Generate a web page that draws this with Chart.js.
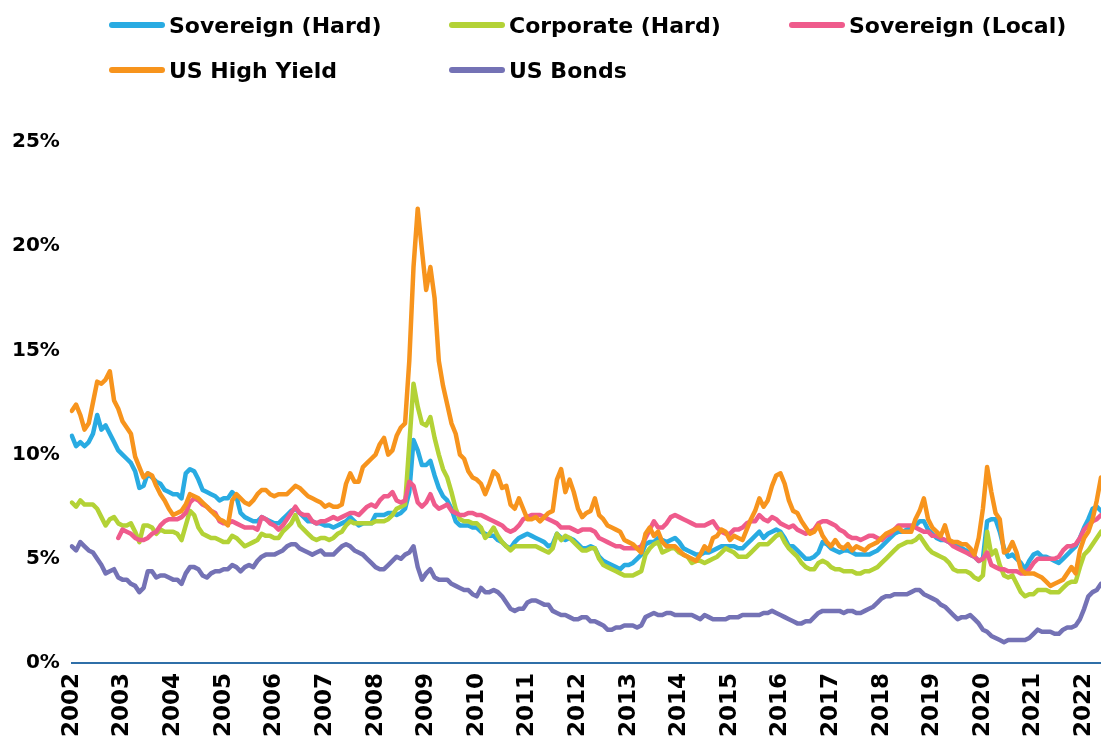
<!DOCTYPE html>
<html>
<head>
<meta charset="utf-8">
<script src="https://cdn.jsdelivr.net/npm/chart.js@4.4.1/dist/chart.umd.min.js"></script>
<style>
  body { margin: 0; background: #fff; }
  #wrap { position: relative; width: 1101px; height: 750px; }
  #legend {
    position: absolute; left: 109px; top: 11px;
    display: grid; grid-template-columns: 340px 340px 340px; row-gap: 17px;
    font-family: "DejaVu Sans", sans-serif; font-weight: bold; font-size: 22px; color: #000;
  }
  .item { display: flex; align-items: center; height: 28px; white-space: nowrap; }
  .swatch { width: 56px; height: 6px; border-radius: 3px; margin-right: 4px; }
</style>
</head>
<body>
<div id="wrap">
  <canvas id="yieldCanvas" width="1101" height="750"></canvas>
  <div id="legend"></div>
</div>
<script>
// monthly, Jan 2002 - May 2022
var years = [2002, 2003, 2004, 2005, 2006, 2007, 2008, 2009, 2010, 2011, 2012,
  2013, 2014, 2015, 2016, 2017, 2018, 2019, 2020, 2021, 2022];
var lastYearMonths = 5;

var seriesNames = ["Sovereign (Hard)", "Corporate (Hard)", "Sovereign (Local)", "US High Yield", "US Bonds"];
var seriesColors = ["#29abe2", "#b3d236", "#ef5b8c", "#f7941d", "#7472b5"];

var sovereignHard = [
  10.9, 10.4, 10.6, 10.4, 10.6, 11.0, 11.9, 11.2, 11.4, 11.0, 10.6, 10.2,
  10.0, 9.8, 9.6, 9.2, 8.4, 8.5, 9.1, 8.9, 8.7, 8.6, 8.3, 8.2,
  8.1, 8.1, 7.9, 9.1, 9.3, 9.2, 8.8, 8.3, 8.2, 8.1, 8.0, 7.8,
  7.9, 7.9, 8.2, 8.0, 7.2, 7.0, 6.9, 6.8, 6.8, 7.0, 6.9, 6.8,
  6.7, 6.7, 6.9, 7.1, 7.3, 7.4, 7.2, 7.0, 6.8, 6.8, 6.7, 6.7,
  6.6, 6.6, 6.5, 6.6, 6.7, 6.8, 7.0, 6.8, 6.6, 6.7, 6.7, 6.7,
  7.1, 7.1, 7.1, 7.2, 7.2, 7.1, 7.2, 7.4, 8.2, 10.7, 10.2, 9.5,
  9.5, 9.7, 9.0, 8.4, 8.0, 7.8, 7.4, 6.8, 6.6, 6.6, 6.6, 6.5,
  6.5, 6.3, 6.2, 6.1, 6.1, 5.9, 5.8, 5.6, 5.5, 5.8, 6.0, 6.1,
  6.2, 6.1, 6.0, 5.9, 5.8, 5.6, 5.7, 6.2, 6.0, 5.9, 6.0, 5.9,
  5.7, 5.5, 5.5, 5.6, 5.5, 5.1, 4.9, 4.8, 4.7, 4.6, 4.5, 4.7,
  4.7, 4.8, 5.0, 5.2, 5.7, 5.8, 5.8, 6.0, 5.9, 5.8, 5.9, 6.0,
  5.8, 5.5, 5.4, 5.3, 5.2, 5.2, 5.3, 5.3, 5.4, 5.5, 5.6, 5.6,
  5.6, 5.6, 5.5, 5.5, 5.7, 5.9, 6.1, 6.3, 6.0, 6.2, 6.3, 6.4,
  6.3, 6.0, 5.6, 5.6, 5.4, 5.2, 5.0, 5.0, 5.1, 5.3, 5.8, 5.7,
  5.5, 5.4, 5.3, 5.4, 5.4, 5.3, 5.2, 5.2, 5.2, 5.2, 5.3, 5.4,
  5.6, 5.8, 6.0, 6.2, 6.3, 6.3, 6.4, 6.5, 6.6, 6.8, 6.8, 6.4,
  6.2, 6.0, 5.9, 5.9, 5.8, 5.7, 5.6, 5.5, 5.4, 5.2, 5.1, 4.9,
  5.0, 6.8, 6.9, 6.9, 6.3, 5.5, 5.1, 5.2, 5.0, 4.8, 4.5, 4.9,
  5.2, 5.3, 5.1, 5.1, 5.0, 4.9, 4.8, 5.0, 5.2, 5.4, 5.6, 6.0,
  6.5, 6.9, 7.4, 7.5, 7.3
];

var corporateHard = [
  7.7, 7.5, 7.8, 7.6, 7.6, 7.6, 7.4, 7.0, 6.6, 6.9, 7.0, 6.7,
  6.6, 6.6, 6.7, 6.3, 5.8, 6.6, 6.6, 6.5, 6.2, 6.4, 6.3, 6.3,
  6.3, 6.2, 5.9, 6.6, 7.3, 7.1, 6.5, 6.2, 6.1, 6.0, 6.0, 5.9,
  5.8, 5.8, 6.1, 6.0, 5.8, 5.6, 5.7, 5.8, 5.9, 6.2, 6.1, 6.1,
  6.0, 6.0, 6.3, 6.5, 6.7, 7.1, 6.6, 6.4, 6.2, 6.0, 5.9, 6.0,
  6.0, 5.9, 6.0, 6.2, 6.3, 6.6, 6.8, 6.7, 6.7, 6.7, 6.7, 6.7,
  6.8, 6.8, 6.8, 6.9, 7.1, 7.4, 7.5, 7.6, 10.5, 13.4, 12.3, 11.5,
  11.4, 11.8, 10.8, 10.0, 9.3, 8.9, 8.2, 7.4, 6.9, 6.8, 6.8, 6.7,
  6.7, 6.5, 6.0, 6.2, 6.5, 6.1, 5.8, 5.6, 5.4, 5.6, 5.6, 5.6,
  5.6, 5.6, 5.6, 5.5, 5.4, 5.3, 5.5, 6.2, 5.9, 6.1, 6.0, 5.8,
  5.6, 5.4, 5.4, 5.5, 5.5, 5.0, 4.7, 4.6, 4.5, 4.4, 4.3, 4.2,
  4.2, 4.2, 4.3, 4.4, 5.2, 5.5, 5.7, 5.8, 5.3, 5.4, 5.5, 5.5,
  5.3, 5.2, 5.1, 4.8, 4.9, 4.9, 4.8, 4.9, 5.0, 5.1, 5.3, 5.5,
  5.4, 5.3, 5.1, 5.1, 5.1, 5.3, 5.5, 5.7, 5.7, 5.7, 5.9, 6.1,
  6.2, 5.8, 5.5, 5.3, 5.1, 4.8, 4.6, 4.5, 4.5, 4.8, 4.9, 4.8,
  4.6, 4.5, 4.5, 4.4, 4.4, 4.4, 4.3, 4.3, 4.4, 4.4, 4.5, 4.6,
  4.8, 5.0, 5.2, 5.4, 5.6, 5.7, 5.8, 5.8, 5.9, 6.1, 5.8, 5.5,
  5.3, 5.2, 5.1, 5.0, 4.8, 4.5, 4.4, 4.4, 4.4, 4.3, 4.1, 4.0,
  4.2, 6.3, 5.2, 5.4, 4.7, 4.2, 4.1, 4.2, 3.8, 3.4, 3.2, 3.3,
  3.3, 3.5, 3.5, 3.5, 3.4, 3.4, 3.4, 3.6, 3.8, 3.9, 3.9, 4.6,
  5.2, 5.4, 5.7, 6.0, 6.3
];

var sovereignLocal = [
  null, null, null, null, null, null, null, null, null, null, null, 6.0,
  6.4, 6.3, 6.2, 6.0, 5.9, 5.9, 6.0, 6.2, 6.3, 6.6, 6.8, 6.9,
  6.9, 6.9, 7.0, 7.2, 7.7, 7.9, 7.8, 7.6, 7.5, 7.3, 7.2, 6.8,
  6.7, 6.7, 6.8, 6.7, 6.6, 6.5, 6.5, 6.5, 6.4, 7.0, 6.9, 6.7,
  6.6, 6.4, 6.6, 6.9, 7.2, 7.5, 7.2, 7.1, 7.1, 6.8, 6.7, 6.8,
  6.8, 6.9, 7.0, 6.9, 7.0, 7.1, 7.2, 7.2, 7.1, 7.3, 7.5, 7.6,
  7.5, 7.8, 8.0, 8.0, 8.2, 7.8, 7.7, 7.8, 8.7, 8.5, 7.7, 7.5,
  7.7, 8.1, 7.6, 7.4, 7.5, 7.6, 7.3, 7.2, 7.1, 7.1, 7.2, 7.2,
  7.1, 7.1, 7.0, 6.9, 6.8, 6.7, 6.6, 6.4, 6.3, 6.4, 6.6, 6.9,
  7.0, 7.1, 7.1, 7.1, 7.0, 6.9, 6.8, 6.7, 6.5, 6.5, 6.5, 6.4,
  6.3, 6.4, 6.4, 6.4, 6.3, 6.0, 5.9, 5.8, 5.7, 5.6, 5.6, 5.5,
  5.5, 5.5, 5.5, 5.6, 6.0, 6.4, 6.8, 6.5, 6.5, 6.7, 7.0, 7.1,
  7.0, 6.9, 6.8, 6.7, 6.6, 6.6, 6.6, 6.7, 6.8, 6.5, 6.3, 6.2,
  6.2, 6.4, 6.4, 6.5, 6.7, 6.8, 6.8, 7.1, 6.9, 6.8, 7.0, 6.9,
  6.7, 6.6, 6.5, 6.6, 6.4, 6.3, 6.2, 6.3, 6.4, 6.7, 6.8, 6.8,
  6.7, 6.6, 6.4, 6.3, 6.1, 6.0, 6.0, 5.9, 6.0, 6.1, 6.1, 6.0,
  5.9, 6.1, 6.2, 6.4, 6.6, 6.6, 6.6, 6.6, 6.5, 6.4, 6.3, 6.3,
  6.1, 6.1, 6.0, 5.9, 5.8, 5.6, 5.5, 5.4, 5.3, 5.2, 5.1, 4.9,
  5.0, 5.3, 4.7, 4.6, 4.5, 4.5, 4.4, 4.4, 4.4, 4.3, 4.3, 4.5,
  4.8, 5.0, 5.0, 5.0, 5.0, 5.0, 5.1, 5.4, 5.6, 5.6, 5.7, 6.0,
  6.4, 6.6, 6.8, 6.9, 7.1
];

var usHighYield = [
  12.1, 12.4, 11.9, 11.2, 11.5, 12.5, 13.5, 13.4, 13.6, 14.0, 12.6, 12.2,
  11.6, 11.3, 11.0, 9.9, 9.4, 8.9, 9.1, 9.0, 8.5, 8.1, 7.8, 7.4,
  7.1, 7.2, 7.3, 7.6, 8.1, 8.0, 7.9, 7.7, 7.5, 7.3, 7.1, 6.9,
  6.8, 6.6, 7.8, 8.1, 7.9, 7.7, 7.6, 7.8, 8.1, 8.3, 8.3, 8.1,
  8.0, 8.1, 8.1, 8.1, 8.3, 8.5, 8.4, 8.2, 8.0, 7.9, 7.8, 7.7,
  7.5, 7.6, 7.5, 7.5, 7.6, 8.6, 9.1, 8.7, 8.7, 9.4, 9.6, 9.8,
  10.0, 10.5, 10.8, 10.0, 10.2, 10.9, 11.3, 11.5, 14.5, 19.0, 21.8, 19.8,
  17.9, 19.0, 17.5, 14.5, 13.3, 12.4, 11.5, 11.0, 10.0, 9.8, 9.2, 8.9,
  8.8, 8.6, 8.1, 8.6, 9.2, 9.0, 8.4, 8.5, 7.6, 7.4, 7.9, 7.4,
  6.9, 6.9, 7.0, 6.8, 7.0, 7.2, 7.3, 8.8, 9.3, 8.2, 8.8, 8.2,
  7.4, 7.0, 7.2, 7.3, 7.9, 7.1, 6.9, 6.6, 6.5, 6.4, 6.3, 5.9,
  5.8, 5.7, 5.5, 5.3, 6.2, 6.5, 6.1, 6.3, 5.8, 5.6, 5.6, 5.6,
  5.4, 5.2, 5.1, 5.0, 4.9, 5.2, 5.6, 5.4, 6.0, 6.1, 6.4, 6.3,
  5.9, 6.1, 6.0, 5.9, 6.4, 6.9, 7.3, 7.9, 7.5, 7.8, 8.5, 9.0,
  9.1, 8.6, 7.8, 7.3, 7.2, 6.8, 6.5, 6.2, 6.3, 6.6, 6.1, 5.8,
  5.6, 5.9, 5.6, 5.5, 5.7, 5.4, 5.6, 5.5, 5.4, 5.6, 5.7, 5.8,
  6.0, 6.2, 6.3, 6.4, 6.5, 6.3, 6.3, 6.3, 6.9, 7.3, 7.9, 6.9,
  6.5, 6.3, 6.1, 6.6, 5.9, 5.8, 5.8, 5.7, 5.7, 5.5, 5.2, 6.0,
  7.4, 9.4, 8.2, 7.2, 6.9, 5.3, 5.4, 5.8, 5.3, 4.5, 4.3, 4.3,
  4.3, 4.2, 4.1, 3.9, 3.7, 3.8, 3.9, 4.0, 4.3, 4.6, 4.3, 5.4,
  6.0, 6.3, 6.9, 7.8, 8.9
];

var usBonds = [
  5.6, 5.4, 5.8, 5.6, 5.4, 5.3, 5.0, 4.7, 4.3, 4.4, 4.5, 4.1,
  4.0, 4.0, 3.8, 3.7, 3.4, 3.6, 4.4, 4.4, 4.1, 4.2, 4.2, 4.1,
  4.0, 4.0, 3.8, 4.3, 4.6, 4.6, 4.5, 4.2, 4.1, 4.3, 4.4, 4.4,
  4.5, 4.5, 4.7, 4.6, 4.4, 4.6, 4.7, 4.6, 4.9, 5.1, 5.2, 5.2,
  5.2, 5.3, 5.4, 5.6, 5.7, 5.7, 5.5, 5.4, 5.3, 5.2, 5.3, 5.4,
  5.2, 5.2, 5.2, 5.4, 5.6, 5.7, 5.6, 5.4, 5.3, 5.2, 5.0, 4.8,
  4.6, 4.5, 4.5, 4.7, 4.9, 5.1, 5.0, 5.2, 5.3, 5.6, 4.6, 4.0,
  4.3, 4.5, 4.1, 4.0, 4.0, 4.0, 3.8, 3.7, 3.6, 3.5, 3.5, 3.3,
  3.2, 3.6, 3.4, 3.4, 3.5, 3.4, 3.2, 2.9, 2.6, 2.5, 2.6, 2.6,
  2.9, 3.0, 3.0, 2.9, 2.8, 2.8, 2.5, 2.4, 2.3, 2.3, 2.2, 2.1,
  2.1, 2.2, 2.2, 2.0, 2.0, 1.9, 1.8, 1.6, 1.6, 1.7, 1.7, 1.8,
  1.8, 1.8, 1.7, 1.8, 2.2, 2.3, 2.4, 2.3, 2.3, 2.4, 2.4, 2.3,
  2.3, 2.3, 2.3, 2.3, 2.2, 2.1, 2.3, 2.2, 2.1, 2.1, 2.1, 2.1,
  2.2, 2.2, 2.2, 2.3, 2.3, 2.3, 2.3, 2.3, 2.4, 2.4, 2.5, 2.4,
  2.3, 2.2, 2.1, 2.0, 1.9, 1.9, 2.0, 2.0, 2.2, 2.4, 2.5, 2.5,
  2.5, 2.5, 2.5, 2.4, 2.5, 2.5, 2.4, 2.4, 2.5, 2.6, 2.7, 2.9,
  3.1, 3.2, 3.2, 3.3, 3.3, 3.3, 3.3, 3.4, 3.5, 3.5, 3.3, 3.2,
  3.1, 3.0, 2.8, 2.7, 2.5, 2.3, 2.1, 2.2, 2.2, 2.3, 2.1, 1.9,
  1.6, 1.5, 1.3, 1.2, 1.1, 1.0, 1.1, 1.1, 1.1, 1.1, 1.1, 1.2,
  1.4, 1.6, 1.5, 1.5, 1.5, 1.4, 1.4, 1.6, 1.7, 1.7, 1.8, 2.1,
  2.6, 3.2, 3.4, 3.5, 3.8
];

var yTicks = [0, 5, 10, 15, 20, 25];

// month labels
var months = [];
years.forEach(function (y, i) {
  var n = i === years.length - 1 ? lastYearMonths : 12;
  for (var m = 0; m < n; m++) months.push(m === 0 ? String(y) : "");
});

var allSeries = [sovereignHard, corporateHard, sovereignLocal, usHighYield, usBonds];

var datasets = allSeries.map(function (vals, i) {
  return {
    label: seriesNames[i],
    data: vals,
    borderColor: seriesColors[i],
    backgroundColor: seriesColors[i],
    borderWidth: 4.5,
    pointRadius: 0,
    tension: 0,
    borderJoinStyle: "round",
    borderCapStyle: "round",
    order: allSeries.length - i
  };
});

// html legend, three fixed columns
var legendEl = document.getElementById("legend");
seriesNames.forEach(function (name, i) {
  var item = document.createElement("div");
  item.className = "item";
  item.innerHTML = '<span class="swatch" style="background:' + seriesColors[i] + '"></span>' + name;
  legendEl.appendChild(item);
});

var ctx = document.getElementById("yieldCanvas").getContext("2d");
var yieldChart = new Chart(ctx, {
  type: "line",
  data: { labels: months, datasets: datasets },
  options: {
    responsive: false,
    animation: false,
    layout: { padding: { top: 142, left: 0, right: 0, bottom: 3 } },
    plugins: { legend: { display: false }, tooltip: { enabled: false } },
    scales: {
      x: {
        offset: false,
        afterFit: function (axis) {
          axis.paddingRight = 0;
          axis.paddingLeft = 0;
        },
        grid: { display: false, drawTicks: false },
        border: { display: true, color: "#2f6fa8", width: 2 },
        ticks: {
          autoSkip: false,
          minRotation: 90,
          maxRotation: 90,
          padding: 10,
          color: "#000",
          font: { family: "DejaVu Sans", weight: "bold", size: 23 }
        }
      },
      y: {
        min: 0,
        max: 25,
        afterBuildTicks: function (axis) {
          axis.ticks = yTicks.map(function (v) { return { value: v }; });
        },
        grid: { display: false, drawTicks: false },
        border: { display: false },
        ticks: {
          padding: 12,
          color: "#000",
          font: { family: "DejaVu Sans", weight: "bold", size: 20 },
          callback: function (v) { return v + "%"; }
        }
      }
    }
  }
});
</script>
</body>
</html>
